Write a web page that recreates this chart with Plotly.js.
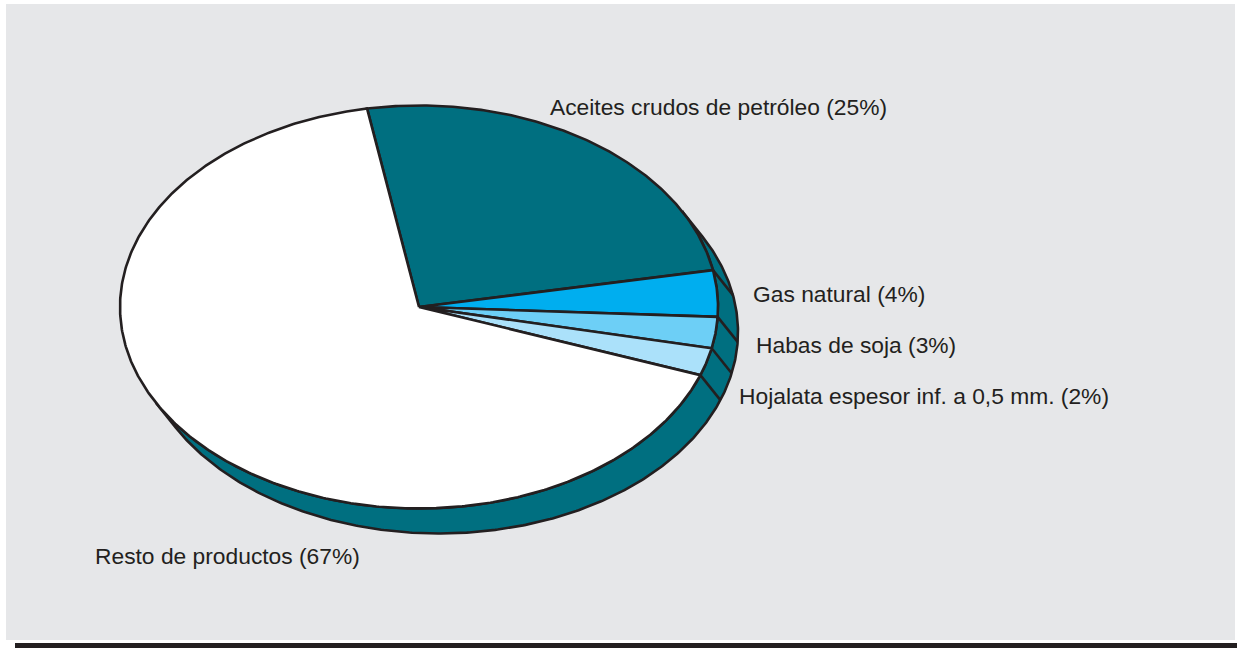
<!DOCTYPE html>
<html>
<head>
<meta charset="utf-8">
<script src="https://cdn.plot.ly/plotly-3.0.1.min.js"></script>
<style>html,body{margin:0;padding:0;background:#fff;overflow:hidden}#chart{width:1237px;height:648px}</style>
</head>
<body>
<div id="chart"></div>
<script>
const categories = ["Aceites crudos de petróleo", "Gas natural", "Habas de soja", "Hojalata espesor inf. a 0,5 mm.", "Resto de productos"];
const shares = [24.8, 3.7, 2.5, 2.2, 66.6];
const shareLabels = ["25%", "4%", "3%", "2%", "67%"];

const sliceColors = ["#006F80", "#00AEEF", "#6DCFF6", "#ABE1FA", "#FFFFFF"];
const labelX = [550, 753, 756, 739, 95];
const labelY = [106.5, 293.5, 344.5, 395.5, 555.5];

const INK = "#231F20", PANEL = "#E6E7E9", SIDE = "#006F80", LW = 2.6;
const cx = 419, cy = 307, rx = 299, ry = 201.5, dx = 20, dy = 25, START = 100;

const pt = (deg, ox = 0, oy = 0) => {
  const r = deg * Math.PI / 180;
  return [cx + ox + rx * Math.cos(r), cy + oy - ry * Math.sin(r)];
};
const arc = (a, b, ox = 0, oy = 0) => {
  const n = Math.max(2, Math.ceil(Math.abs(b - a) * 2));
  const out = [];
  for (let i = 0; i <= n; i++) out.push(pt(a + (b - a) * i / n, ox, oy));
  return out;
};
const total = shares.reduce((s, v) => s + v, 0);
const bounds = [START];
shares.forEach(v => bounds.push(bounds[bounds.length - 1] - v / total * 360));

const traces = [];
const poly = (pts, fill, name) => traces.push({
  type: "scatter", mode: "lines", x: pts.map(p => p[0]), y: pts.map(p => p[1]),
  fill: fill ? "toself" : "none", fillcolor: fill || undefined,
  line: {color: INK, width: LW, shape: "linear"}, name: name || "", hoverinfo: name ? "name" : "skip", showlegend: false
});

// extruded rim: swept ellipse between the two tangent points
const tangent = Math.atan((dx / dy) * (ry / rx)) * 180 / Math.PI;
const rim = arc(tangent, tangent - 180, dx, dy).concat(arc(tangent - 180, tangent));
rim.push(rim[0]);
poly(rim, SIDE);

// rim dividers at the visible slice boundaries
bounds.slice(1, 5).forEach(b => poly([pt(b), pt(b, dx, dy)], null));

// top face slices
categories.forEach((c, i) => {
  const pts = [[cx, cy]].concat(arc(bounds[i], bounds[i + 1]));
  pts.push([cx, cy]);
  poly(pts, sliceColors[i], c + " (" + shareLabels[i] + ")");
});

const annotations = categories.map((c, i) => ({
  x: labelX[i], y: labelY[i], xref: "x", yref: "y", xanchor: "left", yanchor: "middle",
  text: c + " (" + shareLabels[i] + ")", showarrow: false, xshift: -2,
  font: {family: "Liberation Sans, Arial, sans-serif", size: 22.8, color: INK}
}));

const layout = {
  width: 1237, height: 648, margin: {l: 0, r: 0, t: 0, b: 0, pad: 0},
  paper_bgcolor: "#FFFFFF", plot_bgcolor: "#FFFFFF", showlegend: false,
  xaxis: {range: [0, 1237], visible: false, fixedrange: true},
  yaxis: {range: [648, 0], visible: false, fixedrange: true},
  shapes: [
    {type: "rect", xref: "x", yref: "y", x0: 6, x1: 1235, y0: 4, y1: 640, fillcolor: PANEL, line: {width: 0}, layer: "below"},
    {type: "rect", xref: "x", yref: "y", x0: 15, x1: 1237, y0: 643, y1: 648, fillcolor: INK, line: {width: 0}, layer: "below"}
  ],
  annotations
};
Plotly.newPlot("chart", traces, layout, {displayModeBar: false, staticPlot: true});
</script>
</body>
</html>
